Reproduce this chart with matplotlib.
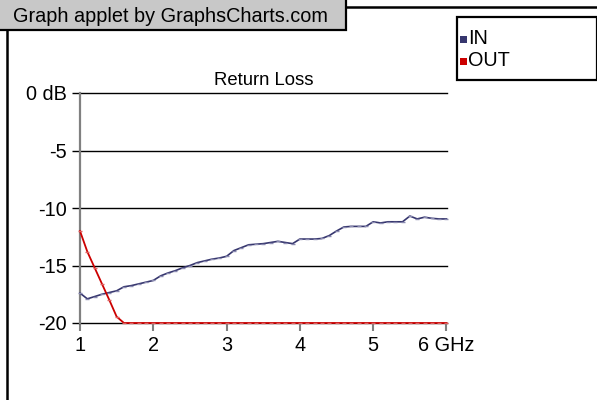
import matplotlib.pyplot as plt
from matplotlib.patches import Rectangle

plt.rcParams['font.family'] = ['Liberation Sans', 'DejaVu Sans']

# frequency in GHz, return loss in dB
freq_in = [1.0, 1.1, 1.2, 1.3, 1.4, 1.5, 1.6, 1.7, 1.8, 1.9,
           2.0, 2.1, 2.2, 2.3, 2.4, 2.5, 2.6, 2.7, 2.8, 2.9,
           3.0, 3.1, 3.2, 3.3, 3.4, 3.5, 3.6, 3.7, 3.8, 3.9,
           4.0, 4.1, 4.2, 4.3, 4.4, 4.5, 4.6, 4.7, 4.8, 4.9,
           5.0, 5.1, 5.2, 5.3, 5.4, 5.5, 5.6, 5.7, 5.8, 5.9, 6.0]
loss_in = [-17.4, -17.9, -17.7, -17.5, -17.35, -17.2, -16.85, -16.75, -16.6, -16.45,
           -16.3, -15.9, -15.65, -15.45, -15.2, -15.0, -14.75, -14.6, -14.45, -14.35,
           -14.2, -13.7, -13.45, -13.2, -13.15, -13.1, -13.0, -12.9, -13.0, -13.1,
           -12.7, -12.7, -12.7, -12.65, -12.4, -12.0, -11.65, -11.6, -11.6, -11.6,
           -11.2, -11.3, -11.2, -11.2, -11.2, -10.7, -10.95, -10.8, -10.9, -10.95, -10.95]

freq_out = freq_in
loss_out = [-12.0, -13.8, -15.2, -16.6, -18.0, -19.45, -20.0, -20.0, -20.0, -20.0,
            -20.0, -20.0, -20.0, -20.0, -20.0, -20.0, -20.0, -20.0, -20.0, -20.0,
            -20.0, -20.0, -20.0, -20.0, -20.0, -20.0, -20.0, -20.0, -20.0, -20.0,
            -20.0, -20.0, -20.0, -20.0, -20.0, -20.0, -20.0, -20.0, -20.0, -20.0,
            -20.0, -20.0, -20.0, -20.0, -20.0, -20.0, -20.0, -20.0, -20.0, -20.0, -20.0]

x_ticks = [1, 2, 3, 4, 5, 6]
x_labels = ['1', '2', '3', '4', '5', '6 GHz']
y_ticks = [-20, -15, -10, -5, 0]
y_labels = ['-20', '-15', '-10', '-5', '0 dB']

series_names = ['IN', 'OUT']
series_colors = ['#36366e', '#cc0000']

W, H = 597, 400
fig = plt.figure(figsize=(W / 100, H / 100), dpi=100)

# overlay in pixel coords for the frame, watermark and legend
bg = fig.add_axes([0, 0, 1, 1])
bg.set_xlim(0, W)
bg.set_ylim(H, 0)
bg.axis('off')
bg.add_patch(Rectangle((-2, -2), 348, 32, facecolor='#c8c8c8', edgecolor='black', lw=1.6))
bg.plot([346, W + 2], [7, 7], color='black', lw=1.8, solid_capstyle='butt')
bg.plot([7, 7], [30, H + 2], color='black', lw=1.8, solid_capstyle='butt')
bg.text(13, 16, 'Graph applet by GraphsCharts.com', fontsize=14.3, va='center', ha='left')

bg.add_patch(Rectangle((457, 17), 140, 63, facecolor='white', edgecolor='black', lw=1.6))
for i, (name, col) in enumerate(zip(series_names, series_colors)):
    y = 39 + i * 22
    bg.add_patch(Rectangle((460, y - 3), 7, 7, facecolor=col, edgecolor='none'))
    bg.text(468, y, name, fontsize=14.3, va='center', ha='left')

ax = fig.add_axes([80 / W, 77 / H, 366.5 / W, 230 / H])
ax.set_xlim(1, 6)
ax.set_ylim(-20, 0)
ax.patch.set_alpha(0)
for s in ['top', 'right', 'bottom']:
    ax.spines[s].set_visible(False)
ax.spines['left'].set_color('#808080')
ax.spines['left'].set_linewidth(1.6)

for v in y_ticks:
    ax.axhline(v, color='black', lw=1, clip_on=False, zorder=1)

ax.plot(freq_in, loss_in, color=series_colors[0], lw=1.2, marker='_', markersize=2.5,
        markeredgecolor='#8a8ab0', zorder=3, clip_on=False)
ax.plot(freq_out, loss_out, color=series_colors[1], lw=1.3, marker='_', markersize=3,
        markeredgecolor='#e06060', zorder=4, clip_on=False)

ax.set_xticks(x_ticks)
ax.set_xticklabels(x_labels)
ax.set_yticks(y_ticks)
ax.set_yticklabels(y_labels)
ax.tick_params(axis='x', colors='#808080', length=5.5, width=1.5, pad=4, labelsize=14.3, labelcolor='black')
ax.tick_params(axis='y', colors='black', length=5.8, width=1, pad=3.5, labelsize=14.3)

ax.set_title('Return Loss', fontsize=13.3, pad=6)

fig.savefig('out.png', dpi=100)
